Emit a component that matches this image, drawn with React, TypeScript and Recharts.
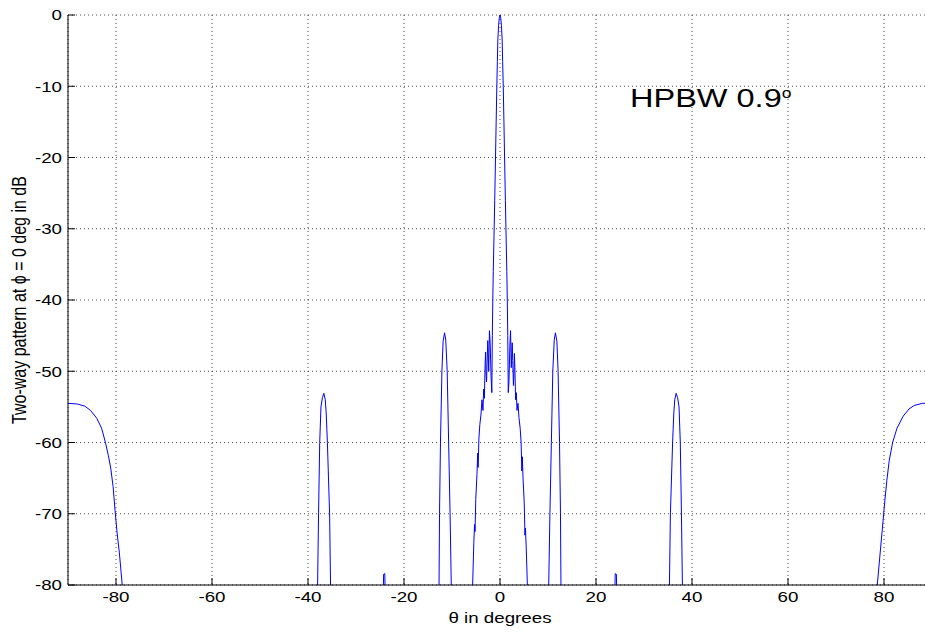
import { LineChart, Line, XAxis, YAxis, CartesianGrid, Label } from 'recharts';

// two-way pattern cut at phi = 0
const thetaDeg = [
  -90, -88, -86.5, -85.3, -84.0, -83.0, -82.2, -81.6, -81.1, -80.6, -80.2, -79.8, -79.3, -78.7, -78.3, -77.5,
  -38.4, -38.0, -37.8, -37.56, -37.3, -37.0, -36.7, -36.4, -36.2, -35.96, -35.5, -35.3, -34.9,
  -24.6, -24.35, -24.25, -24.0, -23.9, -23.6,
  -13.1, -12.7, -12.6, -12.4, -12.1, -11.85, -11.55, -11.3, -11.0, -10.7, -10.4, -10.15, -9.7,
  -6.2, -5.7, -5.45, -5.3, -5.2, -5.05, -4.8, -4.65, -4.55, -4.4, -4.2, -3.95, -3.75, -3.55, -3.4, -3.25,
  -3.1, -3.0, -2.9, -2.8, -2.65, -2.55, -2.45, -2.35, -2.2, -2.05, -1.85, -1.7,
  -1.6, -1.5, -1.4, -1.25, -1.1, -0.95, -0.8, -0.66, -0.55, -0.45, -0.3, -0.15, 0,
  0.15, 0.3, 0.45, 0.55, 0.68, 0.82, 0.97, 1.12, 1.27, 1.42, 1.52, 1.62,
  1.72, 1.87, 2.05, 2.2, 2.35, 2.45, 2.55, 2.65, 2.8, 2.9, 3.0, 3.1,
  3.25, 3.4, 3.55, 3.75, 3.95, 4.2, 4.4, 4.55, 4.65, 4.8, 5.05, 5.2, 5.3, 5.45, 5.7, 6.2,
  9.7, 10.15, 10.4, 10.7, 11.0, 11.3, 11.55, 11.85, 12.1, 12.4, 12.6, 12.7, 13.1,
  23.6, 23.9, 24.0, 24.25, 24.35, 24.6,
  34.9, 35.3, 35.5, 35.96, 36.2, 36.4, 36.7, 37.0, 37.3, 37.56, 37.8, 38.0, 38.4,
  77.5, 78.3, 78.6, 79.2, 79.8, 80.2, 80.6, 81.1, 81.8, 82.7, 84.0, 85.2, 86.3, 88.0, 90,
];

const gainDb = [
  -54.5, -54.6, -54.9, -55.5, -56.6, -58.0, -60.0, -61.8, -63.6, -66.2, -69.5, -72.5, -75.5, -80.0, -84, -110,
  -110, -80, -70, -60, -55, -53.7, -53.1, -54, -56, -60, -70, -80, -110,
  -110, -82, -78.5, -78.4, -82, -110,
  -110, -80, -70, -60, -50, -45.8, -44.6, -45.6, -50, -60, -70, -80, -110,
  -110, -80, -74, -71.5, -72.5, -68, -64.5, -61.5, -63.5, -59.5, -57.5, -56, -54, -55.5, -52.5, -53.8,
  -49, -47.3, -50.5, -51.5, -48, -45.7, -47.5, -50, -44.3, -46, -51, -53,
  -45, -40, -36, -31, -26, -20.5, -15, -10, -6.5, -3.5, -1.5, -0.4, 0,
  -0.4, -1.5, -3.5, -6.5, -10, -15, -20.5, -26, -31, -36, -40, -45,
  -53, -51.5, -46.5, -44.3, -49.5, -47.5, -46, -48.5, -52, -50.5, -47.5, -49.5,
  -54, -53, -55.5, -54.5, -56.5, -58, -60, -64, -62, -65, -68.5, -73, -72, -74.5, -80, -110,
  -110, -80, -70, -60, -50, -45.6, -44.6, -45.8, -50, -60, -70, -80, -110,
  -110, -82, -78.4, -78.5, -82, -110,
  -110, -80, -70, -60, -56, -54, -53.1, -53.7, -55, -60, -70, -80, -110,
  -110, -84, -80, -75.5, -71, -68, -65.3, -62.5, -60, -58, -56.3, -55.3, -54.8, -54.5, -54.5,
];

const xTicks = [-80, -60, -40, -20, 0, 20, 40, 60, 80];
const yTicks = [-80, -70, -60, -50, -40, -30, -20, -10, 0];

const data = thetaDeg.map((theta, i) => ({ theta, gain: gainDb[i] }));

const FONT = 'Arial, "Liberation Sans", Helvetica, sans-serif';
const STRETCH = 1.25;

const BottomTick = (props: any) => {
  const { x, y, payload } = props;
  return (
    <g>
      <line x1={x} x2={x} y1={y - 6} y2={y - 13} stroke="#000" />
      <text
        transform={`translate(${x},${y}) scale(${STRETCH},1)`}
        textAnchor="middle"
        dy="0.76em"
        fontSize={15}
        fontFamily={FONT}
        fill="#000"
      >
        {payload.value}
      </text>
    </g>
  );
};

const TopTick = (props: any) => {
  const { x, y } = props;
  return <line x1={x} x2={x} y1={y} y2={y + 7} stroke="#000" />;
};

const LeftTick = (props: any) => {
  const { x, y, payload } = props;
  return (
    <g>
      <line x1={x + 6} x2={x + 13} y1={y} y2={y} stroke="#000" />
      <text
        transform={`translate(${x},${y}) scale(${STRETCH},1)`}
        textAnchor="end"
        dy="0.36em"
        fontSize={15}
        fontFamily={FONT}
        fill="#000"
      >
        {payload.value}
      </text>
    </g>
  );
};

const XTitle = (props: any) => {
  const { x, y, width } = props.viewBox;
  return (
    <text
      transform={`translate(${x + width / 2},${y + 33}) scale(${STRETCH},1)`}
      textAnchor="middle"
      dy="0.36em"
      fontSize={15}
      fontFamily={FONT}
      fill="#000"
    >
      θ in degrees
    </text>
  );
};

const YTitle = (props: any) => {
  const { y, height } = props.viewBox;
  return (
    <text
      transform={`translate(19,${y + height / 2}) scale(${STRETCH},1) rotate(-90)`}
      textAnchor="middle"
      dy="0.36em"
      fontSize={16}
      fontFamily={FONT}
      fill="#000"
    >
      Two-way pattern at ϕ = 0 deg in dB
    </text>
  );
};

export default function App() {
  return (
    <div
      style={{
        position: 'fixed',
        left: 0,
        top: 0,
        width: 925,
        height: 632,
        overflow: 'hidden',
        background: '#fff',
      }}
    >
      <LineChart width={940} height={632} data={data} margin={{ top: 15, right: 8, bottom: 0, left: 0 }}>
        <CartesianGrid stroke="#000" strokeDasharray="1 3" strokeOpacity={0.7} />
        <XAxis
          dataKey="theta"
          type="number"
          domain={[-90, 90]}
          ticks={xTicks}
          allowDataOverflow
          height={47}
          tickSize={0}
          tickMargin={6}
          axisLine={{ stroke: '#000' }}
          tickLine={false}
          tick={<BottomTick />}
          interval={0}
        >
          <Label content={<XTitle />} />
        </XAxis>
        <XAxis
          xAxisId="top"
          orientation="top"
          dataKey="theta"
          type="number"
          domain={[-90, 90]}
          ticks={xTicks}
          allowDataOverflow
          height={0}
          tickSize={0}
          tickMargin={0}
          axisLine={{ stroke: '#000' }}
          tickLine={false}
          tick={<TopTick />}
          interval={0}
        />
        <YAxis
          type="number"
          domain={[-80, 0]}
          ticks={yTicks}
          allowDataOverflow
          width={68}
          tickSize={0}
          tickMargin={6}
          axisLine={{ stroke: '#000' }}
          tickLine={false}
          tick={<LeftTick />}
          interval={0}
        >
          <Label content={<YTitle />} />
        </YAxis>
        <Line
          dataKey="gain"
          type="linear"
          stroke="#0000ff"
          strokeWidth={1}
          dot={false}
          activeDot={false}
          isAnimationActive={false}
        />
      </LineChart>
      <div
        style={{
          position: 'absolute',
          left: 630,
          top: 85,
          fontFamily: FONT,
          fontSize: 26,
          lineHeight: 1,
          whiteSpace: 'nowrap',
          transform: `scale(${STRETCH},1)`,
          transformOrigin: 'left top',
          color: '#000',
        }}
      >
        HPBW 0.9<span style={{ fontSize: 14, verticalAlign: '9px' }}>o</span>
      </div>
    </div>
  );
}
